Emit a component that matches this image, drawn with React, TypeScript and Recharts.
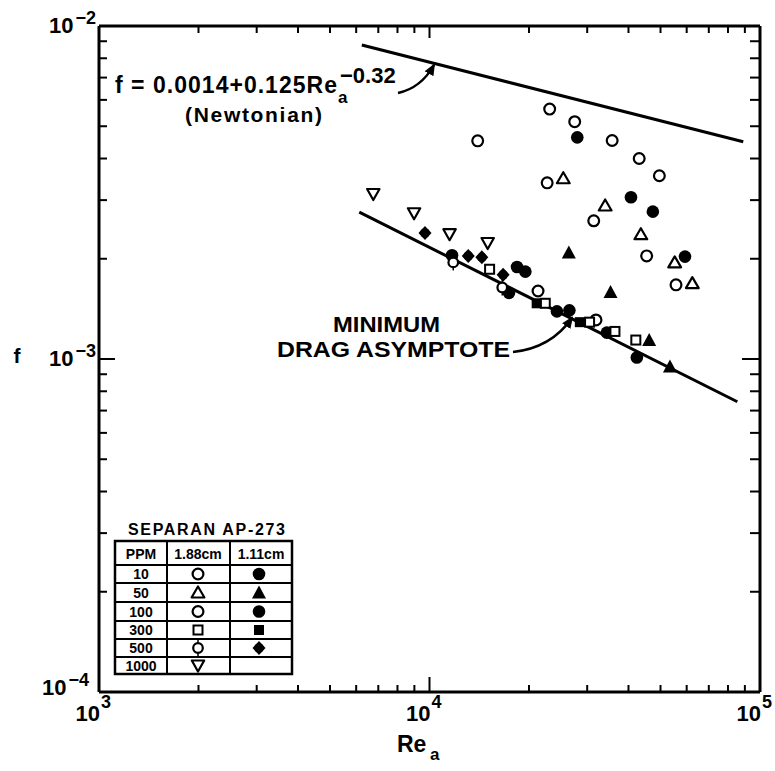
import React from 'react';
import { ScatterChart, Scatter, XAxis, YAxis } from 'recharts';

const W = 775;
const H = 771;
const FONT = '"Liberation Sans", Arial, Helvetica, sans-serif';

const reTicks = [
  1000, 2000, 3000, 4000, 5000, 6000, 7000, 8000, 9000,
  10000, 20000, 30000, 40000, 50000, 60000, 70000, 80000, 90000, 100000,
];
const fTicks = [
  0.0001, 0.0002, 0.0003, 0.0004, 0.0005, 0.0006, 0.0007, 0.0008, 0.0009,
  0.001, 0.002, 0.003, 0.004, 0.005, 0.006, 0.007, 0.008, 0.009, 0.01,
];

// Re_a vs f
const ppm10Open = [
  { re: 23100, f: 0.00563 }, { re: 27500, f: 0.00516 }, { re: 13990, f: 0.00452 },
  { re: 35700, f: 0.00453 }, { re: 43100, f: 0.004 }, { re: 49600, f: 0.00355 },
  { re: 22700, f: 0.00338 }, { re: 31400, f: 0.0026 }, { re: 45400, f: 0.00204 },
  { re: 55700, f: 0.00167 },
];
const ppm10Filled = [
  { re: 28000, f: 0.00463 }, { re: 40700, f: 0.00306 }, { re: 47400, f: 0.00277 },
  { re: 59300, f: 0.00203 },
];
const ppm50Open = [
  { re: 25400, f: 0.00349 }, { re: 34000, f: 0.00289 }, { re: 43600, f: 0.00237 },
  { re: 55200, f: 0.00195 }, { re: 62400, f: 0.00169 },
];
const ppm50Filled = [
  { re: 26400, f: 0.00209 }, { re: 35300, f: 0.00159 }, { re: 46200, f: 0.00114 },
  { re: 53400, f: 0.00095 },
];
const ppm100Open = [{ re: 21300, f: 0.0016 }, { re: 31900, f: 0.00131 }];
const ppm100Filled = [
  { re: 11700, f: 0.00205 }, { re: 17400, f: 0.00158 }, { re: 18400, f: 0.00189 },
  { re: 19500, f: 0.00183 }, { re: 24300, f: 0.00139 }, { re: 26500, f: 0.0014 },
  { re: 34400, f: 0.0012 }, { re: 42400, f: 0.00101 },
];
const ppm300Open = [
  { re: 15200, f: 0.00186 }, { re: 22400, f: 0.00147 }, { re: 30500, f: 0.00129 },
  { re: 36400, f: 0.00121 }, { re: 42100, f: 0.00114 },
];
const ppm300Filled = [{ re: 21100, f: 0.00147 }, { re: 28500, f: 0.00129 }];
const ppm500Open = [{ re: 11800, f: 0.00195 }, { re: 16600, f: 0.00164 }];
const ppm500Filled = [
  { re: 9690, f: 0.00239 }, { re: 13100, f: 0.00204 }, { re: 14400, f: 0.00202 },
  { re: 16700, f: 0.00179 },
];
const ppm1000Open = [
  { re: 6760, f: 0.00313 }, { re: 8980, f: 0.00274 }, { re: 11500, f: 0.00237 },
  { re: 15000, f: 0.00223 },
];

const newtonianLine = [{ re: 6240, f: 0.00877 }, { re: 89000, f: 0.00449 }];
const mdaLine = [{ re: 6130, f: 0.00276 }, { re: 85400, f: 0.000744 }];

const legendRows = ['10', '50', '100', '300', '500', '1000'];

const isDecade = (v: number) => Math.abs(Math.log10(v) - Math.round(Math.log10(v))) < 1e-6;
const expText = (v: number) => {
  const e = Math.round(Math.log10(v));
  return e < 0 ? `\u2212${-e}` : `${e}`;
};

// marker shapes
const ring = (p: any) => <circle cx={p.cx} cy={p.cy} r={5.4} fill="#fff" stroke="#000" strokeWidth={2.2} />;
const dot = (p: any) => <circle cx={p.cx} cy={p.cy} r={6.3} fill="#000" />;
const triOpen = (p: any) => (
  <path d={`M${p.cx},${p.cy - 6} L${p.cx + 6.4},${p.cy + 5} L${p.cx - 6.4},${p.cy + 5} Z`} fill="#fff" stroke="#000" strokeWidth={2.2} strokeLinejoin="round" />
);
const triFilled = (p: any) => (
  <path d={`M${p.cx},${p.cy - 7} L${p.cx + 7},${p.cy + 6} L${p.cx - 7},${p.cy + 6} Z`} fill="#000" />
);
const sqOpen = (p: any) => <rect x={p.cx - 4.5} y={p.cy - 4.5} width={9} height={9} fill="#fff" stroke="#000" strokeWidth={2} />;
const sqFilled = (p: any) => <rect x={p.cx - 5} y={p.cy - 5} width={10} height={10} fill="#000" />;
const pinOpen = (p: any) => (
  <g>
    <line x1={p.cx} x2={p.cx} y1={p.cy - 8} y2={p.cy + 8} stroke="#000" strokeWidth={1.5} />
    <circle cx={p.cx} cy={p.cy} r={4.8} fill="#fff" stroke="#000" strokeWidth={2.2} />
  </g>
);
const pinFilled = (p: any) => (
  <g>
    <path d={`M${p.cx},${p.cy - 7} L${p.cx + 6.5},${p.cy} L${p.cx},${p.cy + 7} L${p.cx - 6.5},${p.cy} Z`} fill="#000" />
    <circle cx={p.cx} cy={p.cy} r={4.8} fill="#000" />
  </g>
);
const invTri = (p: any) => (
  <path d={`M${p.cx - 6.2},${p.cy - 5} L${p.cx + 6.2},${p.cy - 5} L${p.cx},${p.cy + 6} Z`} fill="#fff" stroke="#000" strokeWidth={2.2} strokeLinejoin="round" />
);
const noDot = () => <g />;

const txt = { fontFamily: FONT, fontWeight: 'bold' as const, fill: '#000' };

const BottomTick = (props: any) => {
  const { x, y, payload } = props;
  const major = isDecade(payload.value);
  return (
    <g>
      <line x1={x} x2={x} y1={y} y2={y - (major ? 15 : 7)} stroke="#000" strokeWidth={2} />
      {major && (
        <g>
          <text x={x + 1} y={y + 29} textAnchor="end" fontSize={22} {...txt}>10</text>
          <text x={x + 2} y={y + 16} fontSize={18} {...txt}>{expText(payload.value)}</text>
        </g>
      )}
    </g>
  );
};

const TopTick = (props: any) => {
  const { x, y, payload } = props;
  const major = isDecade(payload.value);
  return <line x1={x} x2={x} y1={y} y2={y + (major ? 12 : 7)} stroke="#000" strokeWidth={2} />;
};

const LeftTick = (props: any) => {
  const { x, y, payload } = props;
  const v = payload.value;
  const major = isDecade(v);
  const low = Math.abs(v - 0.0001) < 1e-9;
  return (
    <g>
      <line x1={x} x2={x + (major ? 16 : 8)} y1={y} y2={y} stroke="#000" strokeWidth={2} />
      {major && (
        <text x={x - (low ? 10 : 3)} y={y + (low ? 3 : 7)} textAnchor="end" fontSize={22} {...txt}>
          10<tspan dx={2} dy={-9} fontSize={18}>{expText(v)}</tspan>
        </text>
      )}
    </g>
  );
};

const RightTick = (props: any) => {
  const { x, y, payload } = props;
  const major = isDecade(payload.value);
  return <line x1={x} x2={x - (major ? 18 : 10)} y1={y} y2={y} stroke="#000" strokeWidth={2} />;
};

const axisLine = { stroke: '#000', strokeWidth: 3 };

const legendMarks: [any, any][] = [
  [ring, dot],
  [triOpen, triFilled],
  [ring, dot],
  [sqOpen, sqFilled],
  [pinOpen, pinFilled],
  [invTri, null],
];

const rowLines = [541, 565, 583, 602, 621, 639, 657, 674];

const LegendTable = () => (
  <g>
    <text x={128} y={535} fontSize={16} textLength={157} lengthAdjust="spacing" {...txt}>SEPARAN AP-273</text>
    <rect x={115} y={541} width={177} height={133} fill="#fff" stroke="#000" strokeWidth={2.5} />
    {rowLines.slice(1, -1).map((yy) => (
      <line key={yy} x1={115} x2={292} y1={yy} y2={yy} stroke="#000" strokeWidth={2} />
    ))}
    <line x1={167} x2={167} y1={541} y2={674} stroke="#000" strokeWidth={2} />
    <line x1={230} x2={230} y1={541} y2={674} stroke="#000" strokeWidth={2} />
    <text x={141} y={559} fontSize={14} textAnchor="middle" {...txt}>PPM</text>
    <text x={198} y={559} fontSize={14} textAnchor="middle" {...txt}>1.88cm</text>
    <text x={261} y={559} fontSize={14} textAnchor="middle" {...txt}>1.11cm</text>
    {legendRows.map((r, i) => {
      const cy = (rowLines[i + 1] + rowLines[i + 2]) / 2;
      const [a, b] = legendMarks[i];
      return (
        <g key={r}>
          <text x={141} y={cy + 5} fontSize={14} textAnchor="middle" {...txt}>{r}</text>
          {a({ cx: 198, cy })}
          {b && b({ cx: 259, cy })}
        </g>
      );
    })}
  </g>
);

const Annotations = () => (
  <svg width={W} height={H} style={{ position: 'absolute', left: 0, top: 0, pointerEvents: 'none' }}>
    <defs>
      <marker id="arr" markerWidth={12} markerHeight={10} refX={10} refY={5} orient="auto" markerUnits="userSpaceOnUse">
        <path d="M0,0 L12,5 L0,10 Z" fill="#000" />
      </marker>
    </defs>
    <text x={115} y={93} fontSize={23} textLength={222} lengthAdjust="spacing" {...txt}>f = 0.0014+0.125Re</text>
    <text x={338} y={103} fontSize={17} {...txt}>a</text>
    <text x={340} y={83} fontSize={22} {...txt}>{'\u2212'}0.32</text>
    <text x={185} y={122} fontSize={21} textLength={137} lengthAdjust="spacing" {...txt}>(Newtonian)</text>
    <path d="M398,93 Q421,88 434,65" fill="none" stroke="#000" strokeWidth={2.5} markerEnd="url(#arr)" />

    <text x={333} y={332} fontSize={22} textLength={107} lengthAdjust="spacingAndGlyphs" {...txt}>MINIMUM</text>
    <text x={277} y={357} fontSize={22} textLength={233} lengthAdjust="spacingAndGlyphs" {...txt}>DRAG ASYMPTOTE</text>
    <path d="M513,352 Q551,348 572,318" fill="none" stroke="#000" strokeWidth={2.5} markerEnd="url(#arr)" />

    <text x={17} y={363} fontSize={21} textAnchor="middle" {...txt}>f</text>
    <text x={397} y={752} fontSize={23} {...txt}>Re</text>
    <text x={430} y={760} fontSize={17} {...txt}>a</text>

    <LegendTable />
  </svg>
);

const App: React.FC = () => {
  return (
    <div style={{ position: 'absolute', left: 0, top: 0, width: W, height: H, background: '#fff' }}>
      <ScatterChart width={W} height={H} margin={{ top: 25, right: 14, bottom: 78, left: 98 }}>
        <XAxis
          xAxisId="bottom"
          dataKey="re"
          type="number"
          scale="log"
          domain={[1000, 100000]}
          allowDataOverflow
          ticks={reTicks}
          interval={0}
          height={1}
          tickSize={0}
          tickMargin={0}
          tickLine={false}
          axisLine={axisLine}
          tick={<BottomTick />}
        />
        <XAxis
          xAxisId="top"
          orientation="top"
          dataKey="re"
          type="number"
          scale="log"
          domain={[1000, 100000]}
          allowDataOverflow
          ticks={reTicks}
          interval={0}
          height={1}
          tickSize={0}
          tickMargin={0}
          tickLine={false}
          axisLine={axisLine}
          tick={<TopTick />}
        />
        <YAxis
          yAxisId="left"
          dataKey="f"
          type="number"
          scale="log"
          domain={[0.0001, 0.01]}
          allowDataOverflow
          ticks={fTicks}
          interval={0}
          width={1}
          tickSize={0}
          tickMargin={0}
          tickLine={false}
          axisLine={axisLine}
          tick={<LeftTick />}
        />
        <YAxis
          yAxisId="right"
          orientation="right"
          dataKey="f"
          type="number"
          scale="log"
          domain={[0.0001, 0.01]}
          allowDataOverflow
          ticks={fTicks}
          interval={0}
          width={1}
          tickSize={0}
          tickMargin={0}
          tickLine={false}
          axisLine={axisLine}
          tick={<RightTick />}
        />
        <Scatter xAxisId="top" yAxisId="right" data={newtonianLine} shape={noDot} line={{ stroke: '#000', strokeWidth: 3 }} isAnimationActive={false} />
        <Scatter xAxisId="bottom" yAxisId="left" data={mdaLine} shape={noDot} line={{ stroke: '#000', strokeWidth: 3 }} isAnimationActive={false} />
        <Scatter xAxisId="bottom" yAxisId="left" data={ppm10Open} shape={ring} isAnimationActive={false} />
        <Scatter xAxisId="bottom" yAxisId="left" data={ppm10Filled} shape={dot} isAnimationActive={false} />
        <Scatter xAxisId="bottom" yAxisId="left" data={ppm50Open} shape={triOpen} isAnimationActive={false} />
        <Scatter xAxisId="bottom" yAxisId="left" data={ppm50Filled} shape={triFilled} isAnimationActive={false} />
        <Scatter xAxisId="bottom" yAxisId="left" data={ppm100Open} shape={ring} isAnimationActive={false} />
        <Scatter xAxisId="bottom" yAxisId="left" data={ppm100Filled} shape={dot} isAnimationActive={false} />
        <Scatter xAxisId="bottom" yAxisId="left" data={ppm300Open} shape={sqOpen} isAnimationActive={false} />
        <Scatter xAxisId="bottom" yAxisId="left" data={ppm300Filled} shape={sqFilled} isAnimationActive={false} />
        <Scatter xAxisId="bottom" yAxisId="left" data={ppm500Open} shape={pinOpen} isAnimationActive={false} />
        <Scatter xAxisId="bottom" yAxisId="left" data={ppm500Filled} shape={pinFilled} isAnimationActive={false} />
        <Scatter xAxisId="bottom" yAxisId="left" data={ppm1000Open} shape={invTri} isAnimationActive={false} />
      </ScatterChart>
      <Annotations />
    </div>
  );
};

export default App;
